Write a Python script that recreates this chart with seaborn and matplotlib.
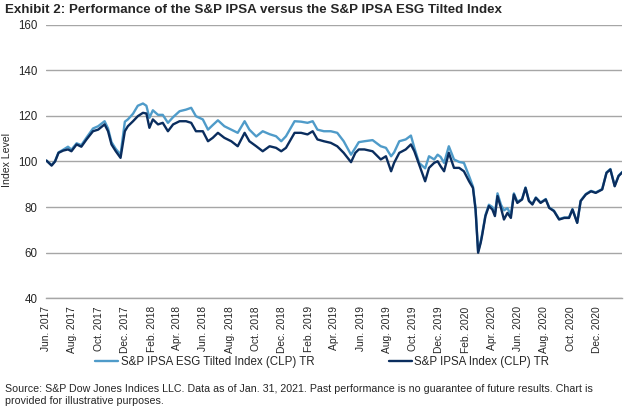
# Importing required libraries ====

import matplotlib.pyplot as plt
import matplotlib.dates as mdates
import pandas as pd
import seaborn as sns


# Data ====

dates = [
    "2017-06-02", "2017-06-14", "2017-06-22", "2017-06-30", "2017-07-11", "2017-07-22",
    "2017-07-30", "2017-08-11", "2017-08-22", "2017-09-03", "2017-09-18", "2017-09-30",
    "2017-10-15", "2017-10-23", "2017-10-31", "2017-11-10", "2017-11-21", "2017-12-01",
    "2017-12-08", "2017-12-20", "2017-12-31", "2018-01-12", "2018-01-20", "2018-01-27",
    "2018-02-04", "2018-02-16", "2018-02-27", "2018-03-11", "2018-03-23", "2018-04-07",
    "2018-04-22", "2018-05-04", "2018-05-15", "2018-05-31", "2018-06-12", "2018-06-23",
    "2018-07-05", "2018-07-20", "2018-08-05", "2018-08-20", "2018-09-05", "2018-09-16",
    "2018-10-02", "2018-10-17", "2018-11-02", "2018-11-17", "2018-11-29", "2018-12-10",
    "2018-12-30", "2019-01-14", "2019-01-29", "2019-02-10", "2019-02-21", "2019-03-08",
    "2019-03-24", "2019-04-08", "2019-04-23", "2019-05-10", "2019-05-20", "2019-05-28",
    "2019-06-10", "2019-06-29", "2019-07-18", "2019-07-30", "2019-08-11", "2019-08-18",
    "2019-08-30", "2019-09-14", "2019-09-26", "2019-10-04", "2019-10-15", "2019-10-29",
    "2019-11-07", "2019-11-19", "2019-11-27", "2019-12-04", "2019-12-12", "2019-12-23",
    "2020-01-04", "2020-01-16", "2020-01-27", "2020-02-08", "2020-02-17", "2020-02-23",
    "2020-02-29", "2020-03-06", "2020-03-09", "2020-03-17", "2020-03-25", "2020-04-02",
    "2020-04-08", "2020-04-14", "2020-04-22", "2020-04-29", "2020-05-07", "2020-05-15",
    "2020-05-22", "2020-05-30", "2020-06-10", "2020-06-18", "2020-06-26", "2020-07-04",
    "2020-07-12", "2020-07-23", "2020-08-04", "2020-08-12", "2020-08-23", "2020-09-04",
    "2020-09-16", "2020-09-27", "2020-10-05", "2020-10-16", "2020-10-24", "2020-11-05",
    "2020-11-17", "2020-11-28", "2020-12-13", "2020-12-23", "2021-01-01", "2021-01-11",
    "2021-01-20", "2021-01-29",
]

ipsa = [
    100.4, 98.2, 100.0, 103.8, 104.8, 105.3, 104.5, 107.5, 106.5, 109.7, 113.3, 114.0,
    116.3, 113.3, 107.5, 104.5, 101.6, 113.3, 115.5, 117.7, 119.9, 121.4, 121.1, 114.8,
    118.5, 116.3, 117.0, 113.3, 116.3, 117.7, 117.7, 117.0, 113.3, 113.3, 108.9, 110.4,
    112.6, 110.4, 108.9, 106.7, 112.6, 108.9, 106.7, 104.5, 106.7, 106.0, 104.5, 106.0,
    112.6, 112.6, 111.9, 113.3, 109.7, 108.9, 108.2, 106.7, 103.8, 99.7, 103.8, 105.3,
    105.3, 104.5, 100.9, 102.3, 95.7, 99.4, 103.8, 105.3, 107.5, 104.5, 98.7, 91.3,
    97.2, 99.4, 100.1, 97.9, 95.7, 103.8, 97.2, 97.2, 95.7, 91.3, 88.4, 78.9,
    59.9, 64.3, 67.2, 76.0, 80.4, 78.9, 76.0, 84.8, 79.6, 74.5, 77.4, 75.2,
    85.5, 81.8, 83.3, 88.4, 82.6, 81.1, 84.0, 81.8, 83.3, 79.6, 78.2, 74.5,
    75.2, 75.2, 78.9, 73.0, 82.6, 85.5, 86.9, 86.2, 87.7, 95.0, 96.5, 89.1,
    93.6, 95.3,
]

esg = [
    100.4, 98.4, 100.2, 104.0, 105.2, 106.5, 105.2, 108.0, 107.2, 110.5, 114.5, 115.5,
    117.7, 114.5, 108.5, 105.5, 103.0, 117.5, 118.5, 121.0, 124.5, 125.5, 124.5, 119.2,
    122.5, 120.5, 120.5, 117.0, 119.5, 122.1, 122.8, 123.6, 119.9, 118.5, 114.0, 116.0,
    118.1, 115.5, 114.0, 112.6, 117.7, 114.0, 111.0, 113.3, 112.0, 111.1, 108.9, 111.1,
    117.7, 117.5, 117.0, 117.7, 114.0, 113.3, 113.3, 112.6, 108.9, 103.0, 106.0, 108.5,
    108.9, 109.4, 106.7, 106.0, 102.3, 104.0, 108.9, 109.7, 111.4, 106.0, 99.4, 97.0,
    102.3, 100.9, 103.0, 102.0, 99.4, 106.7, 100.9, 99.8, 99.4, 93.6, 89.0, 79.5,
    60.5, 64.8, 67.8, 76.5, 81.0, 80.0, 77.0, 86.0, 81.0, 78.5, 79.5, 76.5,
    86.0, 82.3, 83.5, 88.6, 82.8, 81.3, 84.2, 82.0, 83.5, 79.8, 78.4, 74.7,
    75.4, 75.4, 79.1, 73.2, 82.8, 85.7, 87.1, 86.4, 87.9, 95.2, 96.7, 89.3,
    93.8, 95.5,
]

esg_name = "S&P IPSA ESG Tilted Index (CLP) TR"
ipsa_name = "S&P IPSA Index (CLP) TR"

df = pd.DataFrame({
    "Date": pd.to_datetime(dates * 2),
    "Level": esg + ipsa,
    "Series": [esg_name] * len(esg) + [ipsa_name] * len(ipsa),
})


# Line Chart ====

sns.set_style("white")
plt.rcParams["font.family"] = ["Liberation Sans", "DejaVu Sans"]

fig, ax = plt.subplots(figsize = (6.32, 4.15), dpi = 100)
fig.subplots_adjust(left = 0.0728, right = 0.9842, top = 0.9398, bottom = 0.2819)

sns.lineplot(
    data = df, x = "Date", y = "Level", hue = "Series",
    hue_order = [esg_name, ipsa_name],
    palette = ["#4f9bc9", "#0a2d5e"],
    linewidth = 1.7, ax = ax,
)

grid_col = "#a6a6a6"
ax.set_ylim(40, 160)
ax.set_yticks(range(40, 161, 20))
ax.yaxis.grid(True, color = grid_col, linewidth = 1)
ax.xaxis.grid(False)
ax.set_axisbelow(True)

ax.set_xlim(pd.Timestamp("2017-06-01"), pd.Timestamp("2021-01-28"))
ax.xaxis.set_major_locator(mdates.MonthLocator(bymonth = [2, 4, 6, 8, 10, 12]))
ax.xaxis.set_major_formatter(mdates.DateFormatter("%b. %Y"))

for side in ["top", "right", "left"]:
    ax.spines[side].set_visible(False)
ax.spines["bottom"].set_color(grid_col)
ax.spines["bottom"].set_linewidth(1)

ax.tick_params(axis = "x", direction = "out", length = 4, width = 1, color = grid_col,
               labelsize = 7.4, rotation = 90, pad = 2)
ax.tick_params(axis = "y", length = 0, labelsize = 8.3, pad = 6)

ax.set_xlabel("")
ax.set_ylabel("Index Level", fontsize = 7.6)
ax.yaxis.set_label_coords(-0.059, 0.505)

handles, labels = ax.get_legend_handles_labels()
ax.get_legend().remove()
fig.legend(handles, labels, loc = "center", bbox_to_anchor = (0.51, 0.128), ncol = 2,
           frameon = False, fontsize = 8.3, handlelength = 2.0, handletextpad = 0.2,
           columnspacing = 6.5)

fig.text(0.008, 0.975, "Exhibit 2: Performance of the S&P IPSA versus the S&P IPSA ESG Tilted Index",
         fontsize = 9.6, fontweight = "bold", va = "center", ha = "left")
fig.text(0.008, 0.048,
         "Source: S&P Dow Jones Indices LLC. Data as of Jan. 31, 2021. Past performance is no guarantee of future results. Chart is\nprovided for illustrative purposes.",
         fontsize = 7.7, va = "center", ha = "left", linespacing = 1.2)

plt.savefig("out.png", dpi = 100)
